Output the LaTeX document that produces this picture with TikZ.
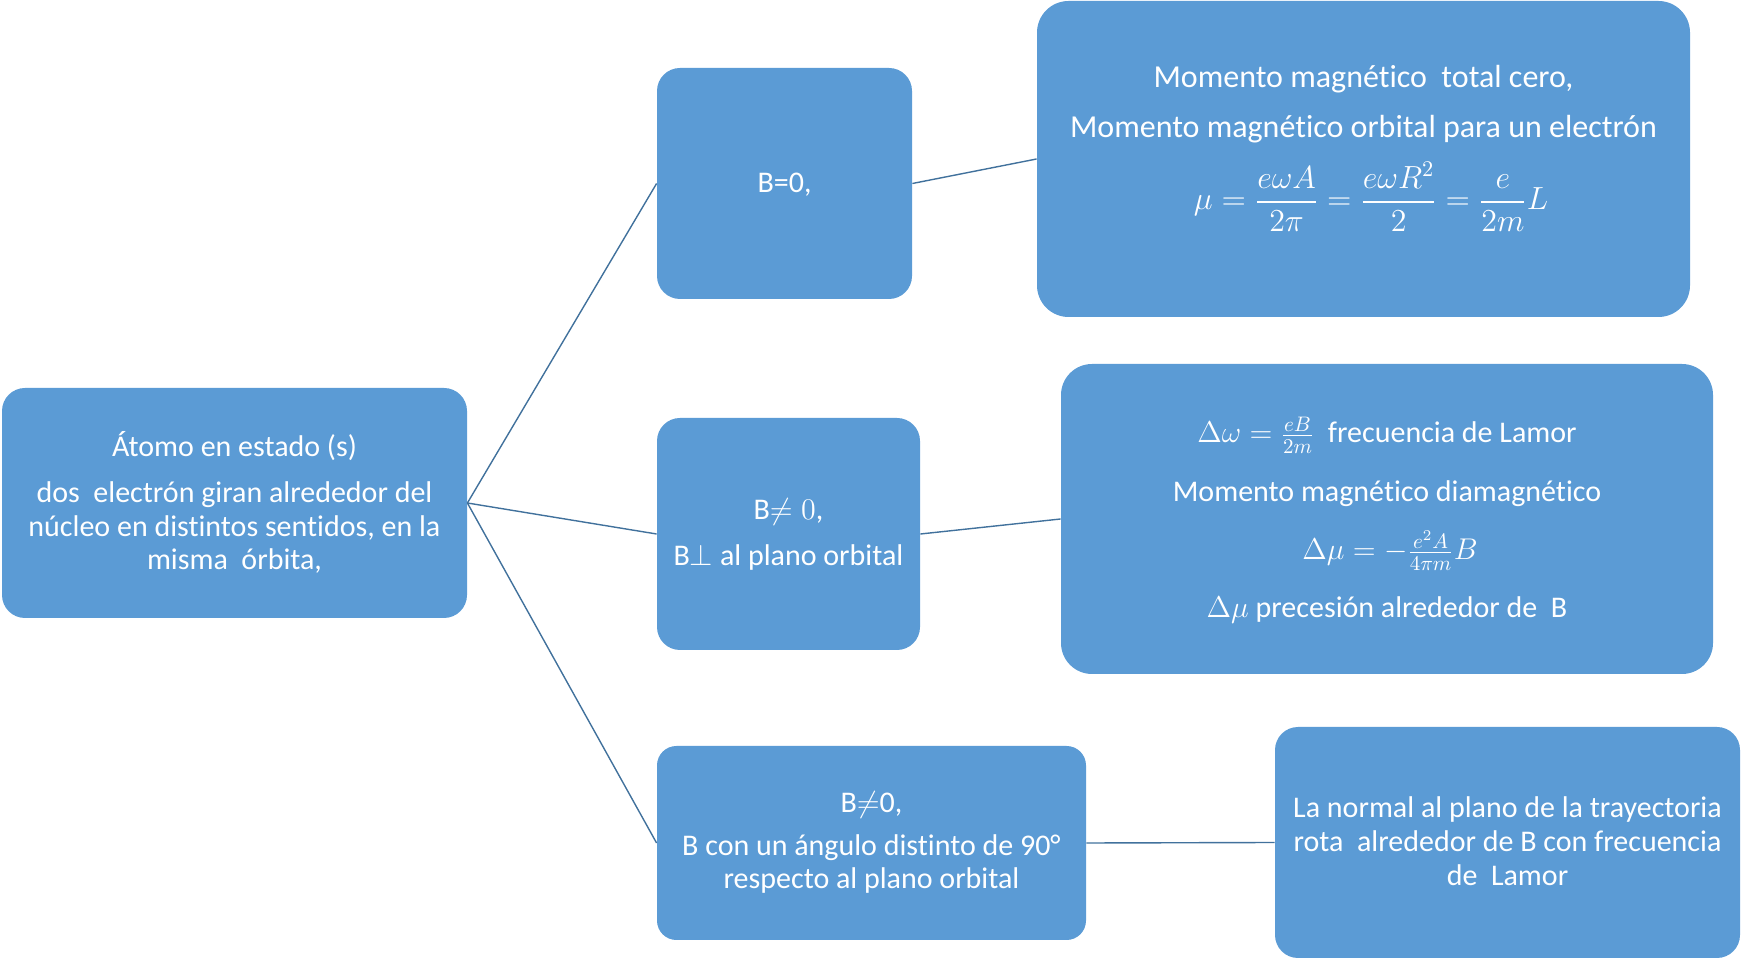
\RequirePackage{fix-cm}
\documentclass[tikz,border=0pt]{standalone}
\usepackage{amsmath}
\usepackage[no-math]{fontspec}
\setmainfont{Carlito}[Ligatures=CommonOff]
\definecolor{boxfill}{HTML}{5B9BD5}
\definecolor{linkcol}{HTML}{41719C}
\tikzset{
  box/.style={fill=boxfill, draw=none, inner sep=0pt},
  txt/.style={anchor=base, text=white, inner sep=0pt, font=\fontsize{15}{18}\selectfont},
  bigtxt/.style={txt, font=\fontsize{16}{19}\selectfont},
  link/.style={draw=linkcol, line width=0.7pt},
}
\begin{document}
\begin{tikzpicture}[x=0.5pt,y=-0.5pt]
\useasboundingbox (0,0) rectangle (1741,961);

% boxes
\node[box, minimum width=232.5pt, minimum height=115pt, rounded corners=11.5pt] (root) at (234.5,503) {};
\node[box, minimum width=127.5pt, minimum height=115.5pt, rounded corners=11.5pt] (b0) at (784.5,183.5) {};
\node[box, minimum width=131.5pt, minimum height=116pt, rounded corners=11.5pt] (bp) at (788.5,534) {};
\node[box, minimum width=214.5pt, minimum height=97pt, rounded corners=9.7pt] (ba) at (871.5,843) {};
\node[box, minimum width=326.5pt, minimum height=158pt, rounded corners=15.8pt] (rt) at (1363.5,159) {};
\node[box, minimum width=326pt, minimum height=155pt, rounded corners=15.5pt] (rm) at (1387,519) {};
\node[box, minimum width=232.5pt, minimum height=115.5pt, rounded corners=11.5pt] (rb) at (1507.5,842.5) {};

% connectors
\draw[link] (root.east) -- (b0.west);
\draw[link] (root.east) -- (bp.west);
\draw[link] (root.east) -- (ba.west);
\draw[link] (b0.east) -- (rt.west);
\draw[link] (bp.east) -- (rm.west);
\draw[link] (ba.east) -- (rb.west);

% texts
\node[txt] (root1) at (234.5,457) {Átomo en estado (s)};
\node[txt] (root2) at (234.5,503) {dos\ \ electrón giran alrededor del};
\node[txt] (root3) at (234.5,536.5) {núcleo en distintos sentidos, en la};
\node[txt] (root4) at (234.5,570) {misma\ \ órbita,};

\node[txt] (b01) at (784.5,193) {B=0,};

\node[txt] (bp1) at (788.5,520) {B$\neq 0$,};
\node[txt] (bp2) at (788.5,566) {B$\perp$ al plano orbital};

\node[txt] (ba1) at (871.5,813) {B$\neq$0,};
\node[txt] (ba2) at (871.5,856) {B con un ángulo distinto de 90°};
\node[txt] (ba3) at (871.5,889) {respecto al plano orbital};

\node[bigtxt] (rt1) at (1363.5,88) {Momento magnético\ \ total cero,};
\node[bigtxt] (rt2) at (1363.5,138) {Momento magnético orbital para un electrón};
\node[bigtxt] (rt3) at (1371,210) {$\mu=\dfrac{e\omega A}{2\pi}=\dfrac{e\omega R^2}{2}=\dfrac{e}{2m}L$};

\node[txt] (rm1) at (1387,443) {$\Delta\omega=\tfrac{eB}{2m}$\ \ frecuencia de Lamor};
\node[txt] (rm2) at (1387,502) {Momento magnético diamagnético};
\node[txt] (rm3) at (1390,560) {$\Delta\mu=-\tfrac{e^2A}{4\pi m}B$};
\node[txt] (rm4) at (1387,618) {$\Delta\mu$ precesión alrededor de\ \ B};

\node[txt] (rb1) at (1507.5,818) {La normal al plano de la trayectoria};
\node[txt] (rb2) at (1507.5,852) {rota\ \ alrededor de B con frecuencia};
\node[txt] (rb3) at (1507.5,885) {de\ \ Lamor};
\end{tikzpicture}
\end{document}
